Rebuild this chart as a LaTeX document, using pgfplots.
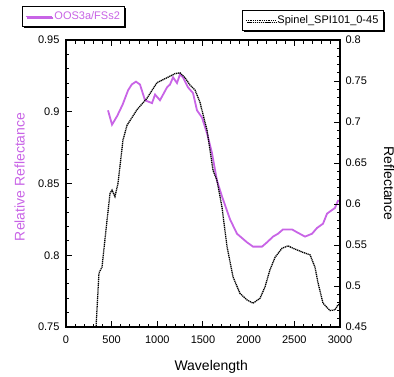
\documentclass[border=0pt]{standalone}
\usepackage{fontspec}
\setmainfont{Liberation Sans}
\usepackage{pgfplots}
\pgfplotsset{compat=1.18}
\usetikzlibrary{shadows}
\definecolor{purp}{RGB}{200,100,230}
\begin{document}
\begin{tikzpicture}
\path[use as bounding box] (-66pt,-49pt) rectangle (328pt,327pt);
\begin{axis}[
  scale only axis, width=274pt, height=287pt,
  xmin=0, xmax=3000, ymin=0.75, ymax=0.95,
  xtick={0,500,1000,1500,2000,2500,3000}, minor x tick num=4,
  ytick={0.75,0.8,0.85,0.9,0.95}, minor y tick num=4,
  ytick pos=left, xtick pos=both, tick align=inside,
  major tick length=6pt, minor tick length=3.5pt,
  axis line style={line width=1.8pt},
  every tick/.style={black, line width=1pt},
  /pgf/number format/assume math mode=true,
  ticklabel style={font=\fontsize{11}{13}\selectfont},
  xticklabel style={yshift=-5pt, /pgf/number format/set thousands separator={}},
  yticklabel style={xshift=-3pt, /pgf/number format/fixed, /pgf/number format/precision=2},
  every axis x label/.style={at={(axis description cs:0.53,0)}, anchor=north, yshift=-33pt, inner sep=0pt, font=\fontsize{14}{16}\selectfont},
  every axis y label/.style={at={(axis description cs:-0.1496,0.523)}, rotate=90, anchor=south, inner sep=0pt, font=\fontsize{14}{16}\selectfont, text=purp},
  xlabel={Wavelength}, ylabel={Relative Reflectance},
  legend style={at={(-0.1606,1.118)}, anchor=north west, draw=black, line width=1pt, fill=white,
    font=\fontsize{11}{13}\selectfont, text=purp, inner xsep=3pt, inner ysep=2pt,
    nodes={text height=8.5pt, text depth=2.5pt, inner ysep=2.5pt},
    drop shadow={shadow xshift=1.5pt, shadow yshift=-1.5pt, fill=black, opacity=1}},
  legend image code/.code={\draw[purp, line width=1pt] (0pt,0pt) -- (26pt,0pt);},
]
\addplot[purp, line width=1.8pt] coordinates {
(460,0.901) (504,0.891) (560,0.897) (620,0.905) (680,0.915) (720,0.919)
(766,0.921) (810,0.919) (865,0.908) (942,0.906) (975,0.912) (1029,0.908)
(1106,0.917) (1139,0.919) (1172,0.924) (1215,0.920) (1248,0.926) (1281,0.924)
(1336,0.917) (1391,0.913) (1434,0.901) (1489,0.896) (1544,0.885) (1599,0.871)
(1653,0.852) (1708,0.841) (1796,0.825) (1872,0.815) (1982,0.809) (2048,0.806)
(2146,0.806) (2201,0.809) (2267,0.813) (2321,0.815) (2376,0.818) (2431,0.818)
(2475,0.818) (2530,0.816) (2617,0.813) (2694,0.815) (2748,0.819) (2814,0.822)
(2858,0.829) (2945,0.833) (2978,0.838) (3000,0.838)
};
\addlegendentry{OOS3a/FSs2}
\end{axis}
\begin{axis}[
  scale only axis, width=274pt, height=287pt,
  xmin=0, xmax=3000, ymin=0.45, ymax=0.8,
  axis x line=none, axis y line*=right,
  ytick={0.45,0.5,0.55,0.6,0.65,0.7,0.75,0.8}, minor y tick num=4,
  ytick pos=right, tick align=inside,
  major tick length=6pt, minor tick length=3.5pt,
  axis line style={-, line width=1.8pt},
  every tick/.style={black, line width=1pt},
  /pgf/number format/assume math mode=true,
  ticklabel style={font=\fontsize{11}{13}\selectfont},
  yticklabel style={xshift=2pt, /pgf/number format/fixed, /pgf/number format/precision=2},
  every axis y label/.style={at={(axis description cs:1.16,0.5)}, rotate=-90, anchor=south, inner sep=0pt, font=\fontsize{14}{16}\selectfont},
  ylabel={Reflectance},
  legend style={at={(0.6423,1.104)}, anchor=north west, draw=black, line width=1pt, fill=white,
    font=\fontsize{11}{13}\selectfont, inner xsep=3pt, inner ysep=2pt,
    nodes={text height=8.5pt, text depth=2.5pt, inner ysep=2.5pt},
    drop shadow={shadow xshift=1.5pt, shadow yshift=-1.5pt, fill=black, opacity=1}},
  legend image code/.code={\draw[black, line width=1pt, dash pattern=on 1pt off 0.8pt] (0pt,0pt) -- (29pt,0pt);},
]
\addplot[black, line width=1.3pt, dash pattern=on 1.2pt off 0.7pt] coordinates {
(320,0.44) (329,0.45) (361,0.516) (394,0.523) (449,0.580) (482,0.613) (504,0.617)
(536,0.609) (569,0.625) (624,0.678) (668,0.696) (777,0.715) (887,0.729)
(996,0.748) (1106,0.754) (1194,0.759) (1248,0.760) (1303,0.754) (1358,0.745)
(1413,0.739) (1467,0.724) (1544,0.690) (1610,0.641) (1653,0.629) (1708,0.596)
(1763,0.548) (1829,0.511) (1905,0.491) (1982,0.483) (2048,0.479) (2124,0.485)
(2179,0.499) (2234,0.520) (2289,0.535) (2365,0.546) (2431,0.549) (2486,0.546)
(2595,0.541) (2672,0.538) (2726,0.523) (2759,0.504) (2814,0.479) (2891,0.470)
(2945,0.471) (2978,0.477) (3000,0.478)
};
\addlegendentry{Spinel\_SPI101\_0-45}
\end{axis}
\end{tikzpicture}
\end{document}
